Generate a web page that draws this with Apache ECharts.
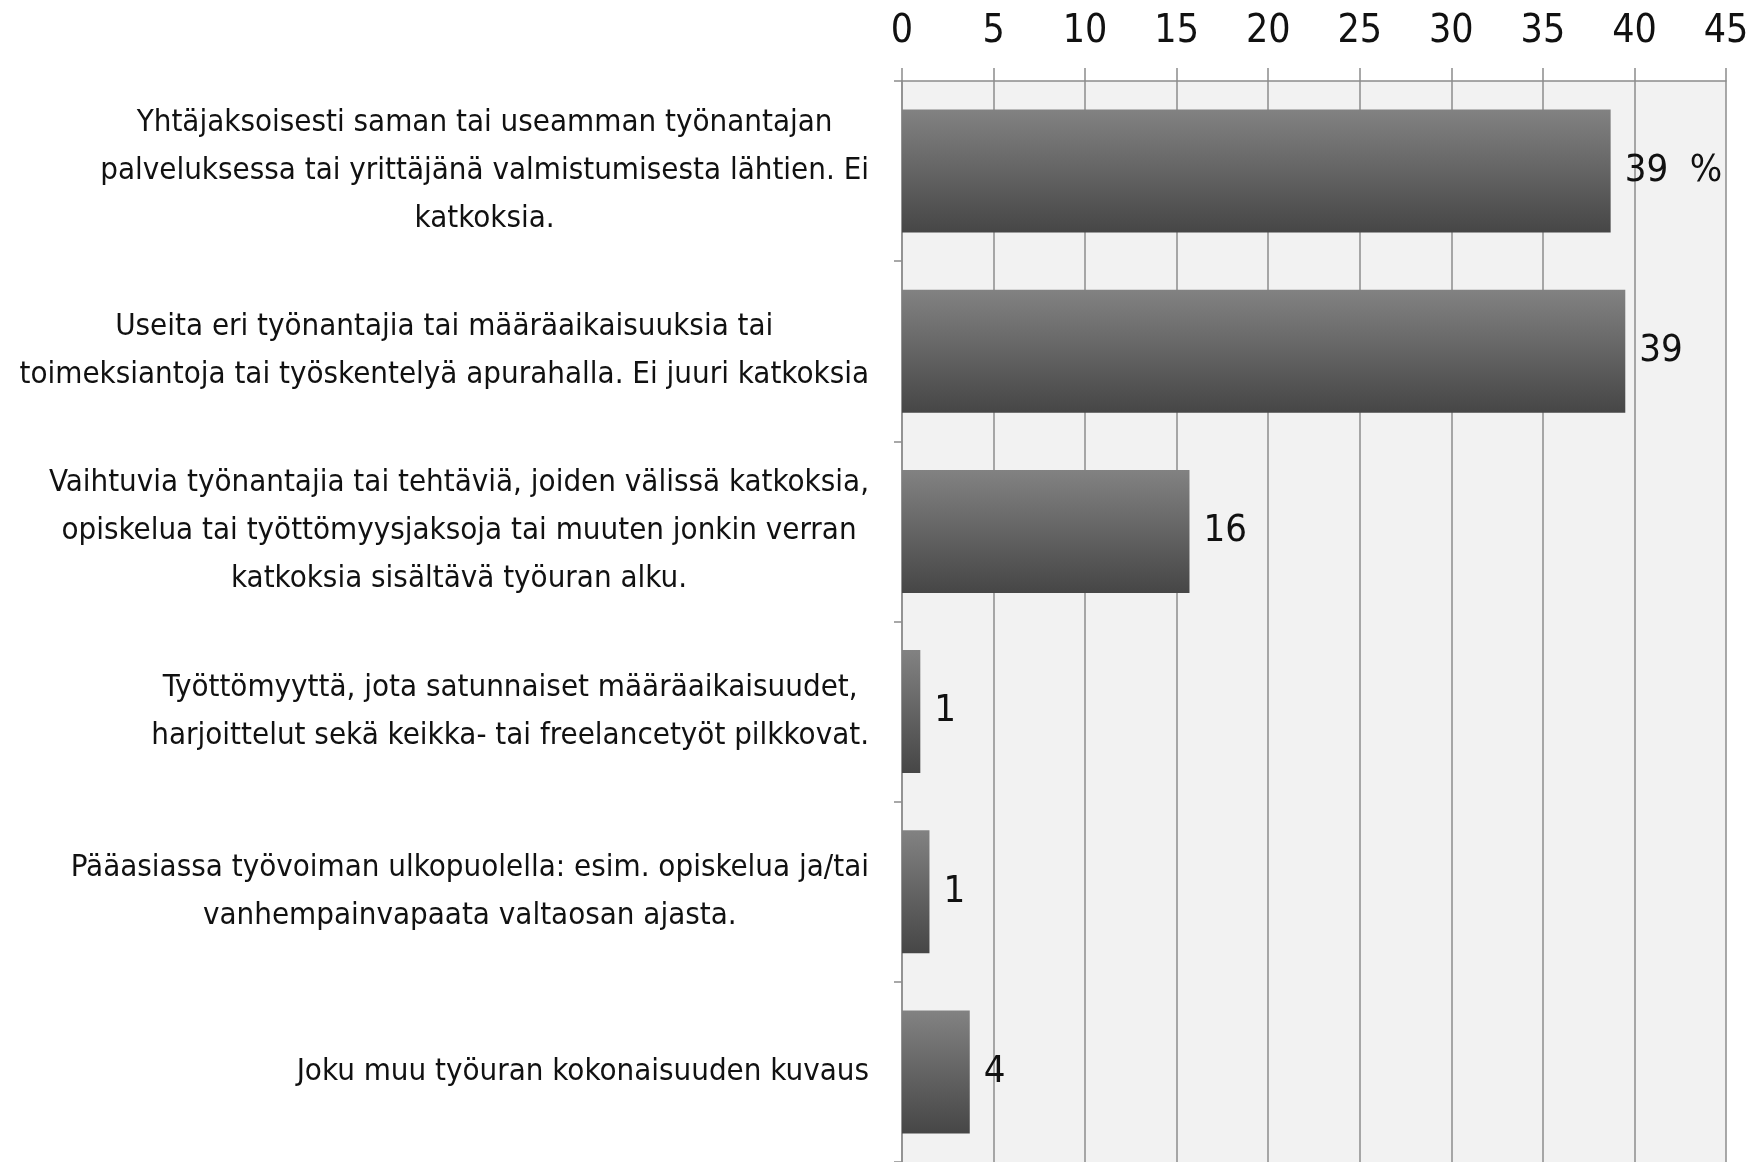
<!DOCTYPE html>
<html>
<head>
<meta charset="utf-8">
<script src="https://cdn.jsdelivr.net/npm/echarts@6/dist/echarts.min.js"></script>
<style>
  html, body { margin: 0; padding: 0; background: #fff; }
  #chart { width: 1763px; height: 1162px; }
</style>
</head>
<body>
<div id="chart"></div>
<script>
// categories, top to bottom (line breaks as in the picture)
var categories = [
  'Yhtäjaksoisesti saman tai useamman työnantajan\npalveluksessa tai yrittäjänä valmistumisesta lähtien. Ei\nkatkoksia.',
  'Useita eri työnantajia tai määräaikaisuuksia tai\ntoimeksiantoja tai työskentelyä apurahalla. Ei juuri katkoksia',
  'Vaihtuvia työnantajia tai tehtäviä, joiden välissä katkoksia,\nopiskelua tai työttömyysjaksoja tai muuten jonkin verran\nkatkoksia sisältävä työuran alku.',
  'Työttömyyttä, jota satunnaiset määräaikaisuudet,\nharjoittelut sekä keikka- tai freelancetyöt pilkkovat.',
  'Pääasiassa työvoiman ulkopuolella: esim. opiskelua ja/tai\nvanhempainvapaata valtaosan ajasta.',
  'Joku muu työuran kokonaisuuden kuvaus'
];
var values = [38.7, 39.5, 15.7, 1.0, 1.5, 3.7];
var valueLabels = ['39  %', '39', '16', '1', '1', '4'];
var tickMax = 45;
var tickStep = 5;

var narrow = "'Liberation Sans Narrow', 'DejaVu Sans Condensed', 'Roboto Condensed', sans-serif";

var chart = echarts.init(document.getElementById('chart'));
chart.setOption({
  animation: false,
  grid: {
    left: 902, right: 37, top: 81, bottom: 0,
    outerBoundsMode: 'none',
    containLabel: false,
    show: true,
    backgroundColor: '#f2f2f2',
    borderWidth: 0
  },
  xAxis: {
    type: 'value',
    position: 'top',
    min: 0,
    max: tickMax,
    interval: tickStep,
    axisLine: { show: true, lineStyle: { color: '#8c8c8c', width: 1.5 } },
    axisTick: { show: true, length: 13, lineStyle: { color: '#8c8c8c', width: 1.5 } },
    splitLine: { show: true, lineStyle: { color: '#8c8c8c', width: 1.5 } },
    axisLabel: {
      margin: 30,
      fontFamily: narrow,
      fontSize: 39,
      color: '#111'
    }
  },
  yAxis: {
    type: 'category',
    inverse: true,
    data: categories,
    axisLine: { show: true, lineStyle: { color: '#8c8c8c', width: 1.5 } },
    axisTick: { show: true, length: 8, lineStyle: { color: '#8c8c8c', width: 1.5 } },
    axisLabel: {
      margin: 33,
      align: 'right',
      formatter: function (v) {
        return v.split('\n').map(function (l) { return '{c|' + l + '}'; }).join('\n');
      },
      rich: {
        c: {
          align: 'center',
          fontFamily: narrow,
          fontSize: 31,
          lineHeight: 48,
          color: '#111'
        }
      }
    }
  },
  series: [{
    type: 'bar',
    data: values,
    barWidth: 123,
    itemStyle: {
      color: new echarts.graphic.LinearGradient(0, 0, 0, 1, [
        { offset: 0, color: '#828282' },
        { offset: 1, color: '#464646' }
      ])
    },
    label: {
      show: true,
      position: 'right',
      distance: 14,
      fontFamily: narrow,
      fontSize: 38,
      color: '#111',
      formatter: function (p) { return valueLabels[p.dataIndex]; }
    }
  }]
});
</script>
</body>
</html>
